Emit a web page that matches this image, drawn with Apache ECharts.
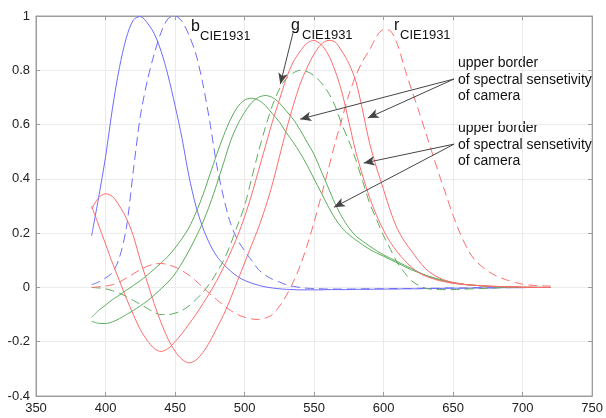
<!DOCTYPE html>
<html>
<head>
<meta charset="utf-8">
<script src="https://cdn.jsdelivr.net/npm/echarts@6/dist/echarts.min.js"></script>
<style>
  html, body { margin: 0; padding: 0; background: #fff; }
  #chart { width: 606px; height: 418px; }
</style>
</head>
<body>
<div id="chart"></div>
<script>
// wavelength, nm (rows of 10: 390-435, 440-485, 490-535, 540-585, 590-635, 640-685, 690-720)
const wl = [
  390, 395, 400, 405, 410, 415, 420, 425, 430, 435,
  440, 445, 450, 455, 460, 465, 470, 475, 480, 485,
  490, 495, 500, 505, 510, 515, 520, 525, 530, 535,
  540, 545, 550, 555, 560, 565, 570, 575, 580, 585,
  590, 595, 600, 605, 610, 615, 620, 625, 630, 635,
  640, 645, 650, 655, 660, 665, 670, 675, 680, 685,
  690, 695, 700, 705, 710, 715, 720];

// CIE1931 colour matching functions (dashed)
const rCie = [
  0.0, 0.002, 0.005, 0.01, 0.02, 0.035, 0.05, 0.065, 0.078, 0.086,
  0.088, 0.084, 0.075, 0.062, 0.045, 0.024, 0.0, -0.023, -0.045, -0.066,
  -0.085, -0.1, -0.11, -0.116, -0.118, -0.113, -0.1, -0.07, -0.03, 0.02,
  0.08, 0.155, 0.24, 0.335, 0.43, 0.53, 0.62, 0.71, 0.78, 0.835,
  0.875, 0.925, 0.95, 0.945, 0.895, 0.81, 0.73, 0.655, 0.575, 0.495,
  0.415, 0.34, 0.265, 0.2, 0.145, 0.105, 0.08, 0.06, 0.045, 0.034,
  0.025, 0.018, 0.012, 0.009, 0.007, 0.006, 0.005];
const gCie = [
  0.0, -0.002, -0.005, -0.012, -0.022, -0.033, -0.048, -0.062, -0.077, -0.092,
  -0.1, -0.1, -0.095, -0.085, -0.068, -0.045, -0.018, 0.015, 0.055, 0.1,
  0.16, 0.23, 0.3, 0.4, 0.5, 0.59, 0.67, 0.73, 0.77, 0.79,
  0.8, 0.795, 0.78, 0.755, 0.72, 0.67, 0.6, 0.54, 0.47, 0.39,
  0.31, 0.25, 0.19, 0.14, 0.09, 0.055, 0.025, 0.008, -0.003, -0.007,
  -0.008, -0.008, -0.008, -0.007, -0.006, -0.005, -0.004, -0.003, -0.002, -0.001,
  -0.001, 0, 0, 0, 0, 0, 0];
const bCie = [
  0.01, 0.02, 0.035, 0.055, 0.11, 0.22, 0.43, 0.63, 0.76, 0.86,
  0.94, 0.99, 1.0, 0.98, 0.93, 0.86, 0.75, 0.61, 0.45, 0.33,
  0.235, 0.175, 0.135, 0.1, 0.066, 0.045, 0.03, 0.02, 0.01, 0.004,
  0.0, -0.003, -0.004, -0.005, -0.006, -0.006, -0.006, -0.006, -0.006, -0.005,
  -0.005, -0.005, -0.005, -0.004, -0.004, -0.004, -0.004, -0.003, -0.003, -0.003,
  -0.003, -0.002, -0.002, -0.002, -0.002, -0.001, -0.001, -0.001, -0.001, 0,
  0, 0, 0, 0, 0, 0, 0];

// camera sensitivity borders (solid)
const rCam1 = [
  0.3, 0.23, 0.16, 0.09, 0.025, -0.04, -0.1, -0.155, -0.195, -0.225,
  -0.236, -0.225, -0.2, -0.17, -0.135, -0.1, -0.06, -0.02, 0.025, 0.075,
  0.13, 0.19, 0.26, 0.34, 0.43, 0.52, 0.61, 0.69, 0.77, 0.83,
  0.87, 0.9, 0.91, 0.895, 0.86, 0.8, 0.72, 0.61, 0.5, 0.41,
  0.33, 0.265, 0.21, 0.165, 0.13, 0.1, 0.075, 0.055, 0.042, 0.033,
  0.025, 0.02, 0.015, 0.012, 0.01, 0.008, 0.006, 0.005, 0.004, 0.003,
  0.002, 0.002, 0.001, 0.001, 0, 0, 0];
const rCam2 = [
  0.29, 0.33, 0.345, 0.335, 0.3, 0.255, 0.19, 0.1, 0.02, -0.06,
  -0.13, -0.19, -0.235, -0.265, -0.278, -0.268, -0.24, -0.2, -0.15, -0.1,
  -0.04, 0.025, 0.09, 0.155, 0.22, 0.295, 0.38, 0.48, 0.58, 0.67,
  0.75, 0.81, 0.86, 0.895, 0.91, 0.905, 0.87, 0.825, 0.76, 0.65,
  0.53, 0.44, 0.36, 0.28, 0.215, 0.17, 0.135, 0.1, 0.07, 0.05,
  0.035, 0.025, 0.018, 0.014, 0.01, 0.008, 0.006, 0.005, 0.004, 0.003,
  0.002, 0.002, 0.001, 0.001, 0, 0, 0];
const gCam1 = [
  -0.11, -0.085, -0.065, -0.045, -0.028, -0.01, 0.007, 0.025, 0.045, 0.067,
  0.09, 0.115, 0.145, 0.18, 0.22, 0.275, 0.34, 0.415, 0.49, 0.56,
  0.62, 0.665, 0.69, 0.697, 0.69, 0.67, 0.64, 0.61, 0.57, 0.535,
  0.495, 0.45, 0.4, 0.35, 0.3, 0.255, 0.22, 0.195, 0.175, 0.157,
  0.14, 0.127, 0.115, 0.102, 0.09, 0.077, 0.065, 0.055, 0.045, 0.037,
  0.03, 0.024, 0.018, 0.014, 0.01, 0.008, 0.006, 0.004, 0.003, 0.002,
  0.001, 0.001, 0, 0, 0, 0, 0];
const gCam2 = [
  -0.125, -0.132, -0.133, -0.127, -0.115, -0.1, -0.085, -0.068, -0.05, -0.028,
  -0.005, 0.02, 0.05, 0.09, 0.135, 0.185, 0.24, 0.305, 0.38, 0.46,
  0.54, 0.6, 0.645, 0.68, 0.7, 0.707, 0.7, 0.68, 0.65, 0.62,
  0.58, 0.535, 0.49, 0.43, 0.37, 0.31, 0.26, 0.22, 0.19, 0.17,
  0.152, 0.135, 0.12, 0.107, 0.095, 0.082, 0.07, 0.057, 0.045, 0.036,
  0.028, 0.022, 0.016, 0.013, 0.01, 0.008, 0.006, 0.004, 0.003, 0.002,
  0.001, 0.001, 0, 0, 0, 0, 0];
const bCam = [
  0.19, 0.33, 0.48, 0.66, 0.81, 0.92, 0.985, 0.998, 0.975, 0.935,
  0.87, 0.78, 0.67, 0.55, 0.41, 0.3, 0.22, 0.16, 0.115, 0.085,
  0.06, 0.04, 0.026, 0.016, 0.008, 0.002, -0.002, -0.005, -0.007, -0.008,
  -0.009, -0.009, -0.009, -0.009, -0.008, -0.008, -0.008, -0.008, -0.007, -0.007,
  -0.007, -0.006, -0.006, -0.006, -0.006, -0.005, -0.005, -0.005, -0.004, -0.004,
  -0.004, -0.003, -0.003, -0.003, -0.003, -0.002, -0.002, -0.002, -0.002, -0.001,
  -0.001, -0.001, -0.001, 0, 0, 0, 0];

const RED = "#ff6b6b";
const GREEN = "#5aac5a";
const BLUE = "#6b6bff";
const FONT = "Liberation Sans, Arial, sans-serif";
const AXIS = "#9c9c9c";

const pairs = (ys) => wl.map((x, i) => [x, ys[i]]);

const curve = (ys, color, dashed) => ({
  type: "line",
  data: pairs(ys),
  showSymbol: false,
  smooth: 0.3,
  silent: true,
  lineStyle: { color: color, width: 1, type: dashed ? [9, 5] : "solid" }
});

const chart = echarts.init(document.getElementById("chart"), null, { renderer: "canvas" });

// annotation arrows: [from, to] in data coords
const arrows = [
  [[535, 0.941], [525.7, 0.749]],
  [[650.7, 0.768], [540, 0.62]],
  [[650.7, 0.768], [588.6, 0.624]],
  [[650.7, 0.528], [585.7, 0.458]],
  [[650.7, 0.528], [564.3, 0.295]]
];

const label = (text, left, top, size) => ({
  type: "text",
  left: left,
  top: top,
  silent: true,
  style: { text: text, font: size + "px " + FONT, fill: "#111", lineHeight: 16.5 }
});

const frameAxis = {
  axisLine: { show: true, onZero: false, lineStyle: { color: AXIS } },
  axisTick: { show: true, inside: true, length: 4, lineStyle: { color: AXIS } }
};

const option = {
  animation: false,
  grid: { left: 36, right: 11, top: 16, bottom: 22, show: true, borderColor: AXIS, borderWidth: 1 },
  xAxis: [
    {
      type: "value", min: 350, max: 750, interval: 50,
      ...frameAxis,
      axisLabel: { color: "#222", fontSize: 13, fontFamily: FONT, margin: 6 },
      splitLine: { show: true, lineStyle: { color: "#ebebeb" } }
    },
    {
      type: "value", min: 350, max: 750, interval: 50, position: "top",
      ...frameAxis,
      axisLabel: { show: false },
      splitLine: { show: false }
    }
  ],
  yAxis: [
    {
      type: "value", min: -0.4, max: 1, interval: 0.2,
      ...frameAxis,
      axisLabel: {
        color: "#222", fontSize: 13, fontFamily: FONT, margin: 6,
        formatter: (v) => String(+v.toFixed(1))
      },
      splitLine: { show: true, lineStyle: { color: "#ebebeb" } }
    },
    {
      type: "value", min: -0.4, max: 1, interval: 0.2, position: "right",
      ...frameAxis,
      axisLabel: { show: false },
      splitLine: { show: false }
    }
  ],
  series: [
    curve(bCam, BLUE, false),
    curve(bCie, BLUE, true),
    curve(gCam1, GREEN, false),
    curve(gCam2, GREEN, false),
    curve(gCie, GREEN, true),
    curve(rCam1, RED, false),
    curve(rCam2, RED, false),
    curve(rCie, RED, true),
    {
      type: "line",
      data: [],
      markLine: {
        silent: true,
        symbol: ["none", "arrow"],
        symbolSize: [7, 11],
        label: { show: false },
        lineStyle: { color: "#444", width: 1, type: "solid" },
        itemStyle: { color: "#222" },
        data: arrows.map(([a, b]) => [{ coord: a }, { coord: b }])
      }
    }
  ],
  graphic: [
    label("b", 191, 18, 16),
    label("CIE1931", 200, 28, 13),
    label("g", 291, 17, 16),
    label("CIE1931", 302, 27, 13),
    label("r", 394, 17, 16),
    label("CIE1931", 400, 27, 13),
    label("upper border\nof spectral sensetivity\nof camera", 458, 55, 14),
    label("upper border\nof spectral sensetivity\nof camera", 458, 120, 14)
  ]
};

chart.setOption(option);
</script>
</body>
</html>
